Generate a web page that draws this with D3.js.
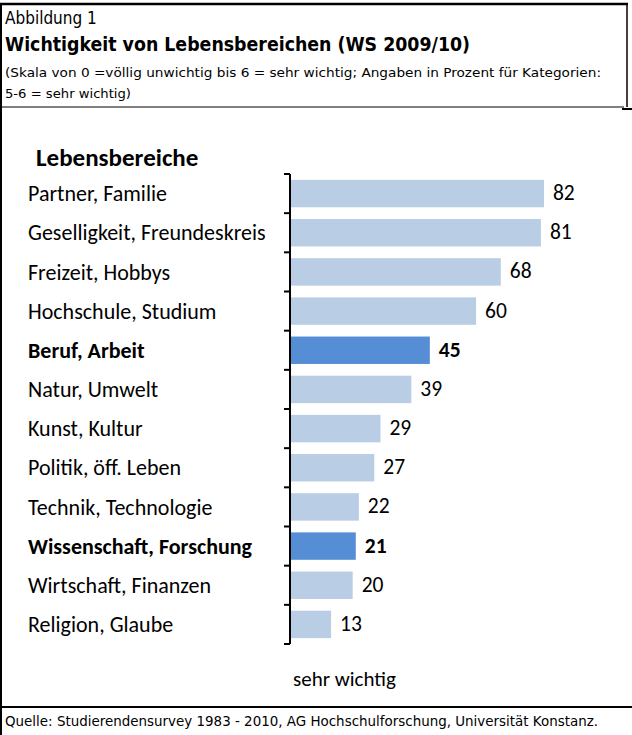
<!DOCTYPE html>
<html>
<head>
<meta charset="utf-8">
<script src="https://cdn.jsdelivr.net/npm/d3@7"></script>
<style>
body { margin: 0; background: #fff; }
svg text { fill: #000; }
.hd { font-family: "Liberation Sans Narrow", "DejaVu Sans Condensed", sans-serif; }
.ch { font-family: Carlito, Lato, sans-serif; }
</style>
</head>
<body>
<svg id="chart" width="632" height="735"></svg>
<script>
var categories = ['Partner, Familie', 'Geselligkeit, Freundeskreis', 'Freizeit, Hobbys',
  'Hochschule, Studium', 'Beruf, Arbeit', 'Natur, Umwelt', 'Kunst, Kultur',
  'Politik, öff. Leben', 'Technik, Technologie', 'Wissenschaft, Forschung',
  'Wirtschaft, Finanzen', 'Religion, Glaube'];
var values = [82, 81, 68, 60, 45, 39, 29, 27, 22, 21, 20, 13];
var highlighted = ['Beruf, Arbeit', 'Wissenschaft, Forschung'];

var data = categories.map((c, i) => ({ name: c, value: values[i], hi: highlighted.indexOf(c) >= 0 }));

var svg = d3.select('svg#chart');

// frame lines
svg.append('line').attr('x1', 0).attr('y1', 4).attr('x2', 628).attr('y2', 4)
  .attr('stroke', '#000').attr('stroke-width', 2.5);
svg.append('line').attr('x1', 627).attr('y1', 4).attr('x2', 627).attr('y2', 107)
  .attr('stroke', '#000').attr('stroke-width', 1.5);
svg.append('line').attr('x1', 0).attr('y1', 107).attr('x2', 624).attr('y2', 107)
  .attr('stroke', '#000').attr('stroke-width', 1.2);
svg.append('line').attr('x1', 1).attr('y1', 4).attr('x2', 1).attr('y2', 735)
  .attr('stroke', '#000').attr('stroke-width', 2);
svg.append('line').attr('x1', 622).attr('y1', 109).attr('x2', 632).attr('y2', 109)
  .attr('stroke', '#000').attr('stroke-width', 2);
svg.append('line').attr('x1', 0).attr('y1', 707).attr('x2', 632).attr('y2', 707)
  .attr('stroke', '#000').attr('stroke-width', 2);

// header
svg.append('text').attr('class', 'hd').attr('x', 5).attr('y', 24)
  .attr('font-size', 17).text('Abbildung 1');
svg.append('text').attr('class', 'hd').attr('x', 5).attr('y', 51)
  .attr('font-size', 19).attr('font-weight', 'bold')
  .attr('textLength', 465).attr('lengthAdjust', 'spacingAndGlyphs')
  .text('Wichtigkeit von Lebensbereichen (WS 2009/10)');
svg.append('text').attr('class', 'hd').attr('x', 5).attr('y', 77)
  .attr('font-size', 13).attr('textLength', 596).attr('lengthAdjust', 'spacingAndGlyphs')
  .text('(Skala von 0 =völlig unwichtig bis 6 = sehr wichtig; Angaben in Prozent für Kategorien:');
svg.append('text').attr('class', 'hd').attr('x', 5).attr('y', 98)
  .attr('font-size', 13).attr('textLength', 126).attr('lengthAdjust', 'spacingAndGlyphs')
  .text('5-6 = sehr wichtig)');

svg.append('text').attr('class', 'hd').attr('x', 5).attr('y', 726)
  .attr('font-size', 14).attr('textLength', 593).attr('lengthAdjust', 'spacingAndGlyphs')
  .text('Quelle: Studierendensurvey 1983 - 2010, AG Hochschulforschung, Universität Konstanz.');

// scales
var x = d3.scaleLinear().domain([0, 100]).range([291, 599.5]);
var y = d3.scaleBand().domain(categories).range([174, 644]).paddingInner(0.3).paddingOuter(0.15);

svg.append('text').attr('class', 'ch').attr('x', 36).attr('y', 166)
  .attr('font-size', 25).attr('font-weight', 'bold').text('Lebensbereiche');

var gs = svg.selectAll('g.bar').data(data).enter().append('g').attr('class', 'bar');

gs.append('rect')
  .attr('x', x(0))
  .attr('y', d => y(d.name))
  .attr('width', d => x(d.value) - x(0))
  .attr('height', y.bandwidth())
  .attr('fill', d => d.hi ? '#558ED5' : '#B9CDE5');

gs.append('text').attr('class', 'ch')
  .attr('x', d => x(d.value) + 9)
  .attr('y', d => y(d.name) + y.bandwidth() / 2)
  .attr('dy', '0.3em')
  .attr('font-size', 21.5)
  .attr('font-weight', d => d.hi ? 'bold' : 'normal')
  .text(d => d.value);

gs.append('text').attr('class', 'ch')
  .attr('x', 28)
  .attr('y', d => y(d.name) + y.bandwidth() / 2)
  .attr('dy', '0.35em')
  .attr('font-size', 22)
  .attr('font-weight', d => d.hi ? 'bold' : 'normal')
  .text(d => d.name);

// category axis with ticks on the band boundaries
var bounds = d3.range(categories.length + 1).map(i => 174 + i * y.step());
svg.append('line').attr('x1', 290).attr('y1', 174).attr('x2', 290).attr('y2', 644)
  .attr('stroke', '#000').attr('stroke-width', 2);
svg.selectAll('line.tick').data(bounds).enter().append('line').attr('class', 'tick')
  .attr('x1', 284).attr('x2', 290)
  .attr('y1', d => d).attr('y2', d => d)
  .attr('stroke', '#000').attr('stroke-width', 2);

svg.append('text').attr('class', 'ch').attr('x', 293).attr('y', 686)
  .attr('font-size', 21).text('sehr wichtig');
</script>
</body>
</html>
